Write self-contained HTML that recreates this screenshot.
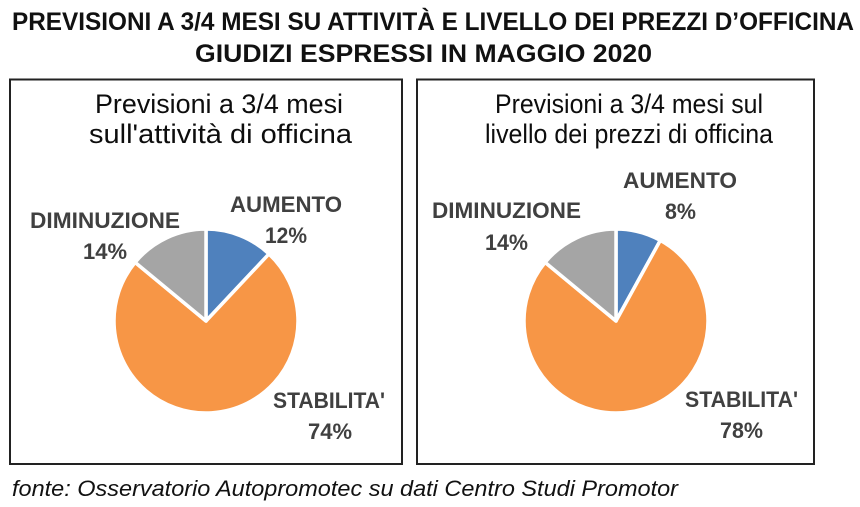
<!DOCTYPE html>
<html>
<head>
<meta charset="utf-8">
<style>
  html, body { margin: 0; padding: 0; background: #ffffff; }
  body { width: 860px; height: 507px; overflow: hidden; }
  svg { display: block; }
  .title { font-family: "Liberation Sans", sans-serif; font-weight: bold; font-size: 25px; fill: #111111; }
  .sub { font-family: "Liberation Sans", sans-serif; font-size: 27px; fill: #0d0d0d; }
  .lab { font-family: "Liberation Sans", sans-serif; font-weight: bold; font-size: 22px; fill: #404040; }
  .foot { font-family: "Liberation Sans", sans-serif; font-style: italic; font-size: 22px; fill: #111111; }
</style>
</head>
<body>
<svg width="860" height="507" viewBox="0 0 860 507" xmlns="http://www.w3.org/2000/svg">
  <rect x="0" y="0" width="860" height="507" fill="#ffffff"/>

  <!-- Title -->
  <text class="title" x="12" y="30" textLength="842" lengthAdjust="spacingAndGlyphs">PREVISIONI A 3/4 MESI SU ATTIVITÀ E LIVELLO DEI PREZZI D’OFFICINA</text>
  <text class="title" x="195" y="62" textLength="457" lengthAdjust="spacingAndGlyphs">GIUDIZI ESPRESSI IN MAGGIO 2020</text>

  <!-- Boxes -->
  <rect x="10" y="79.5" width="392" height="384.5" fill="none" stroke="#222222" stroke-width="2"/>
  <rect x="417" y="79.5" width="397" height="384.5" fill="none" stroke="#222222" stroke-width="2"/>

  <!-- Left chart subtitle -->
  <text class="sub" x="95" y="113" textLength="248" lengthAdjust="spacingAndGlyphs">Previsioni a 3/4 mesi</text>
  <text class="sub" x="89" y="143" textLength="263" lengthAdjust="spacingAndGlyphs">sull'attività di officina</text>

  <!-- Left pie -->
  <g stroke="#ffffff" stroke-width="3.5" stroke-linejoin="round">
    <path d="M206,321 L206,229 A92,92 0 0 1 268.98,253.93 Z" fill="#4F81BD"/>
    <path d="M206,321 L268.98,253.93 A92,92 0 1 1 135.11,262.36 Z" fill="#F79646"/>
    <path d="M206,321 L135.11,262.36 A92,92 0 0 1 206,229 Z" fill="#A5A5A5"/>
  </g>

  <!-- Left labels -->
  <text class="lab" x="230" y="212" textLength="112" lengthAdjust="spacingAndGlyphs">AUMENTO</text>
  <text class="lab" x="265" y="243" textLength="42" lengthAdjust="spacingAndGlyphs">12%</text>
  <text class="lab" x="30" y="228" textLength="150" lengthAdjust="spacingAndGlyphs">DIMINUZIONE</text>
  <text class="lab" x="83" y="259" textLength="44" lengthAdjust="spacingAndGlyphs">14%</text>
  <text class="lab" x="273" y="408" textLength="112" lengthAdjust="spacingAndGlyphs">STABILITA'</text>
  <text class="lab" x="308" y="439" textLength="44" lengthAdjust="spacingAndGlyphs">74%</text>

  <!-- Right chart subtitle -->
  <text class="sub" x="495" y="113" textLength="268" lengthAdjust="spacingAndGlyphs">Previsioni a 3/4 mesi sul</text>
  <text class="sub" x="485" y="143" textLength="288" lengthAdjust="spacingAndGlyphs">livello dei prezzi di officina</text>

  <!-- Right pie -->
  <g stroke="#ffffff" stroke-width="3.5" stroke-linejoin="round">
    <path d="M616,321 L616,229 A92,92 0 0 1 660.32,240.38 Z" fill="#4F81BD"/>
    <path d="M616,321 L660.32,240.38 A92,92 0 1 1 545.11,262.36 Z" fill="#F79646"/>
    <path d="M616,321 L545.11,262.36 A92,92 0 0 1 616,229 Z" fill="#A5A5A5"/>
  </g>

  <!-- Right labels -->
  <text class="lab" x="623" y="188" textLength="114" lengthAdjust="spacingAndGlyphs">AUMENTO</text>
  <text class="lab" x="665" y="219" textLength="31" lengthAdjust="spacingAndGlyphs">8%</text>
  <text class="lab" x="432" y="218" textLength="149" lengthAdjust="spacingAndGlyphs">DIMINUZIONE</text>
  <text class="lab" x="485" y="250" textLength="43" lengthAdjust="spacingAndGlyphs">14%</text>
  <text class="lab" x="685" y="407" textLength="113" lengthAdjust="spacingAndGlyphs">STABILITA'</text>
  <text class="lab" x="720" y="438" textLength="43" lengthAdjust="spacingAndGlyphs">78%</text>

  <!-- Footer -->
  <text class="foot" x="12" y="496" textLength="666" lengthAdjust="spacingAndGlyphs">fonte: Osservatorio Autopromotec su dati Centro Studi Promotor</text>
</svg>
</body>
</html>
